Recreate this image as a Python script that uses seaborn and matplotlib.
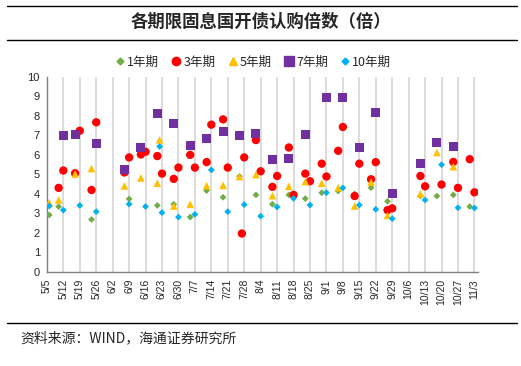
import numpy as np
import pandas as pd
import matplotlib
matplotlib.use("Agg")
import matplotlib.pyplot as plt
import matplotlib.dates as mdates
from matplotlib.lines import Line2D
import seaborn as sns

# auction dates (2016) and bid-to-cover ratios per tenor
dates_1y = ["5/6", "5/10", "5/24", "6/9", "6/21", "6/28", "7/5", "7/12", "7/19", "7/26",
            "8/2", "8/9", "8/16", "8/23", "8/30", "9/6", "9/13", "9/20", "9/27",
            "10/11", "10/18", "10/25", "11/1"]
vals_1y = [2.92, 3.35, 2.69, 3.74, 3.41, 3.47, 2.81, 4.17, 3.83, 4.9,
           3.95, 3.47, 3.95, 3.76, 4.06, 4.15, 4.0, 4.32, 3.62,
           3.9, 3.89, 3.95, 3.35]

dates_3y = ["5/10", "5/12", "5/17", "5/19", "5/24", "5/26", "6/7", "6/9", "6/14", "6/16",
            "6/21", "6/23", "6/28", "6/30", "7/5", "7/7", "7/12", "7/14", "7/19", "7/21",
            "7/27", "7/28", "8/2", "8/4", "8/9", "8/11", "8/16", "8/18", "8/23", "8/25",
            "8/30", "9/1", "9/6", "9/8", "9/13", "9/15", "9/20", "9/22", "9/27", "9/29",
            "10/11", "10/13", "10/20", "10/25", "10/27", "11/1", "11/3"]
vals_3y = [4.31, 5.2, 5.06, 7.24, 4.2, 7.67, 5.1, 5.87, 6.02, 6.16,
           5.94, 5.04, 4.77, 5.35, 6.0, 5.35, 5.63, 7.55, 7.82, 5.35,
           1.97, 5.87, 6.76, 5.16, 4.36, 4.92, 6.38, 3.95, 5.04, 4.65,
           5.55, 4.89, 6.21, 7.43, 3.89, 5.55, 4.75, 5.63, 3.17, 3.26,
           4.92, 4.39, 4.48, 5.64, 4.31, 5.78, 4.08]

dates_5y = ["5/6", "5/10", "5/17", "5/24", "6/7", "6/14", "6/21", "6/22", "6/28", "7/5",
            "7/12", "7/19", "7/26", "8/2", "8/9", "8/16", "8/23", "8/30", "9/6", "9/13",
            "9/20", "9/27", "10/11", "10/18", "10/25"]
vals_5y = [3.55, 3.69, 5.02, 5.3, 4.41, 4.82, 4.55, 6.77, 3.38, 3.47,
           4.42, 4.44, 4.89, 4.99, 3.91, 4.39, 4.63, 4.55, 4.32, 3.38,
           4.6, 2.9, 4.0, 6.12, 5.4]

dates_7y = ["5/12", "5/17", "5/26", "6/7", "6/14", "6/21", "6/28", "7/5", "7/12", "7/19",
            "7/26", "8/2", "8/9", "8/16", "8/23", "9/1", "9/8", "9/15", "9/22", "9/29",
            "10/11", "10/18", "10/25"]
vals_7y = [6.98, 7.03, 6.57, 5.23, 6.38, 8.11, 7.61, 6.48, 6.86, 7.19,
           7.0, 7.12, 5.75, 5.83, 7.03, 8.92, 8.94, 6.38, 8.18, 4.01,
           5.57, 6.66, 6.45]

dates_10y = ["5/6", "5/12", "5/19", "5/26", "6/9", "6/16", "6/22", "6/23", "6/30", "7/7",
             "7/14", "7/21", "7/28", "8/4", "8/11", "8/18", "8/25", "9/1", "9/8", "9/15",
             "9/22", "9/29", "10/13", "10/20", "10/27", "11/3"]
vals_10y = [3.38, 3.17, 3.41, 3.09, 3.48, 3.35, 6.43, 3.04, 2.81, 2.95,
            5.23, 3.09, 3.45, 2.86, 3.33, 3.77, 3.43, 4.06, 4.31, 3.43,
            3.21, 2.73, 3.69, 5.5, 3.29, 3.28]

series_names = ["1年期", "3年期", "5年期", "7年期", "10年期"]
series_dates = [dates_1y, dates_3y, dates_5y, dates_7y, dates_10y]
series_vals = [vals_1y, vals_3y, vals_5y, vals_7y, vals_10y]
colors = ["#70AD47", "#FF0000", "#FFC000", "#7030A0", "#00B0F0"]
markers = ["D", "o", "^", "s", "D"]
sizes = [12, 36, 30, 42, 12]

sns.set_style("white")
plt.rcParams["font.family"] = ["Liberation Sans", "Noto Sans CJK SC", "DejaVu Sans"]
cjk = ["Noto Sans CJK SC", "DejaVu Sans"]

frames = []
for name, d, v in zip(series_names, series_dates, series_vals):
    frames.append(pd.DataFrame({"date": pd.to_datetime(["2016/" + s for s in d], format="%Y/%m/%d"),
                                "value": v, "tenor": name}))
df = pd.concat(frames, ignore_index=True)

fig = plt.figure(figsize=(5.21, 3.66), dpi=100)
ax = fig.add_axes([0.090, 0.257, 0.827, 0.533])

for name, col, mk, sz in zip(series_names, colors, markers, sizes):
    sub = df[df["tenor"] == name]
    sns.scatterplot(data=sub, x="date", y="value", color=col, marker=mk, s=sz,
                    edgecolor="none", linewidth=0, ax=ax, legend=False, zorder=3)

ticks = pd.date_range("2016-05-05", "2016-11-03", freq="7D")
ax.set_xticks(ticks)
ax.set_xticklabels([f"{t.month}/{t.day}" for t in ticks], rotation=90, fontsize=7.5)
ax.set_xlim(pd.Timestamp("2016-05-05"), pd.Timestamp("2016-11-04 10:00"))
ax.set_ylim(0, 10)
ax.set_yticks(range(0, 11))
ax.tick_params(axis="y", labelsize=8, length=3, width=0.8, color="#7f7f7f", pad=2)
ax.tick_params(axis="x", length=3, width=0.8, color="#7f7f7f", pad=2)
ax.grid(axis="x", color="#d9d9d9", linewidth=1.3)
ax.grid(axis="y", visible=False)
ax.set_axisbelow(True)
ax.set_xlabel("")
ax.set_ylabel("")
for sp in ["top", "right"]:
    ax.spines[sp].set_visible(False)
for sp in ["left", "bottom"]:
    ax.spines[sp].set_color("#7f7f7f")
    ax.spines[sp].set_linewidth(1.0)

handles = [Line2D([], [], linestyle="none", marker=mk, color=col, markersize=np.sqrt(sz))
           for col, mk, sz in zip(colors, markers, sizes)]
fig.legend(handles, series_names, loc="center", bbox_to_anchor=(0.487, 0.830), ncol=5,
           frameon=False, handlelength=0.6, handletextpad=0.25, columnspacing=1.1,
           prop={"family": cjk, "size": 9})

# title box and source
for yy in [1 - 6 / 366, 1 - 40 / 366, 1 - 323 / 366]:
    fig.add_artist(Line2D([7 / 521, 517 / 521], [yy, yy], color="black", linewidth=1.0))
fig.text(0.5, 1 - 22 / 366, "各期限固息国开债认购倍数（倍）", ha="center", va="center",
         fontsize=12.5, fontweight="bold", family=cjk)
fig.text(20 / 521, 1 - 338 / 366, "资料来源：WIND，海通证券研究所", ha="left", va="center",
         fontsize=10, family=cjk)

fig.savefig("out.png", dpi=100)
